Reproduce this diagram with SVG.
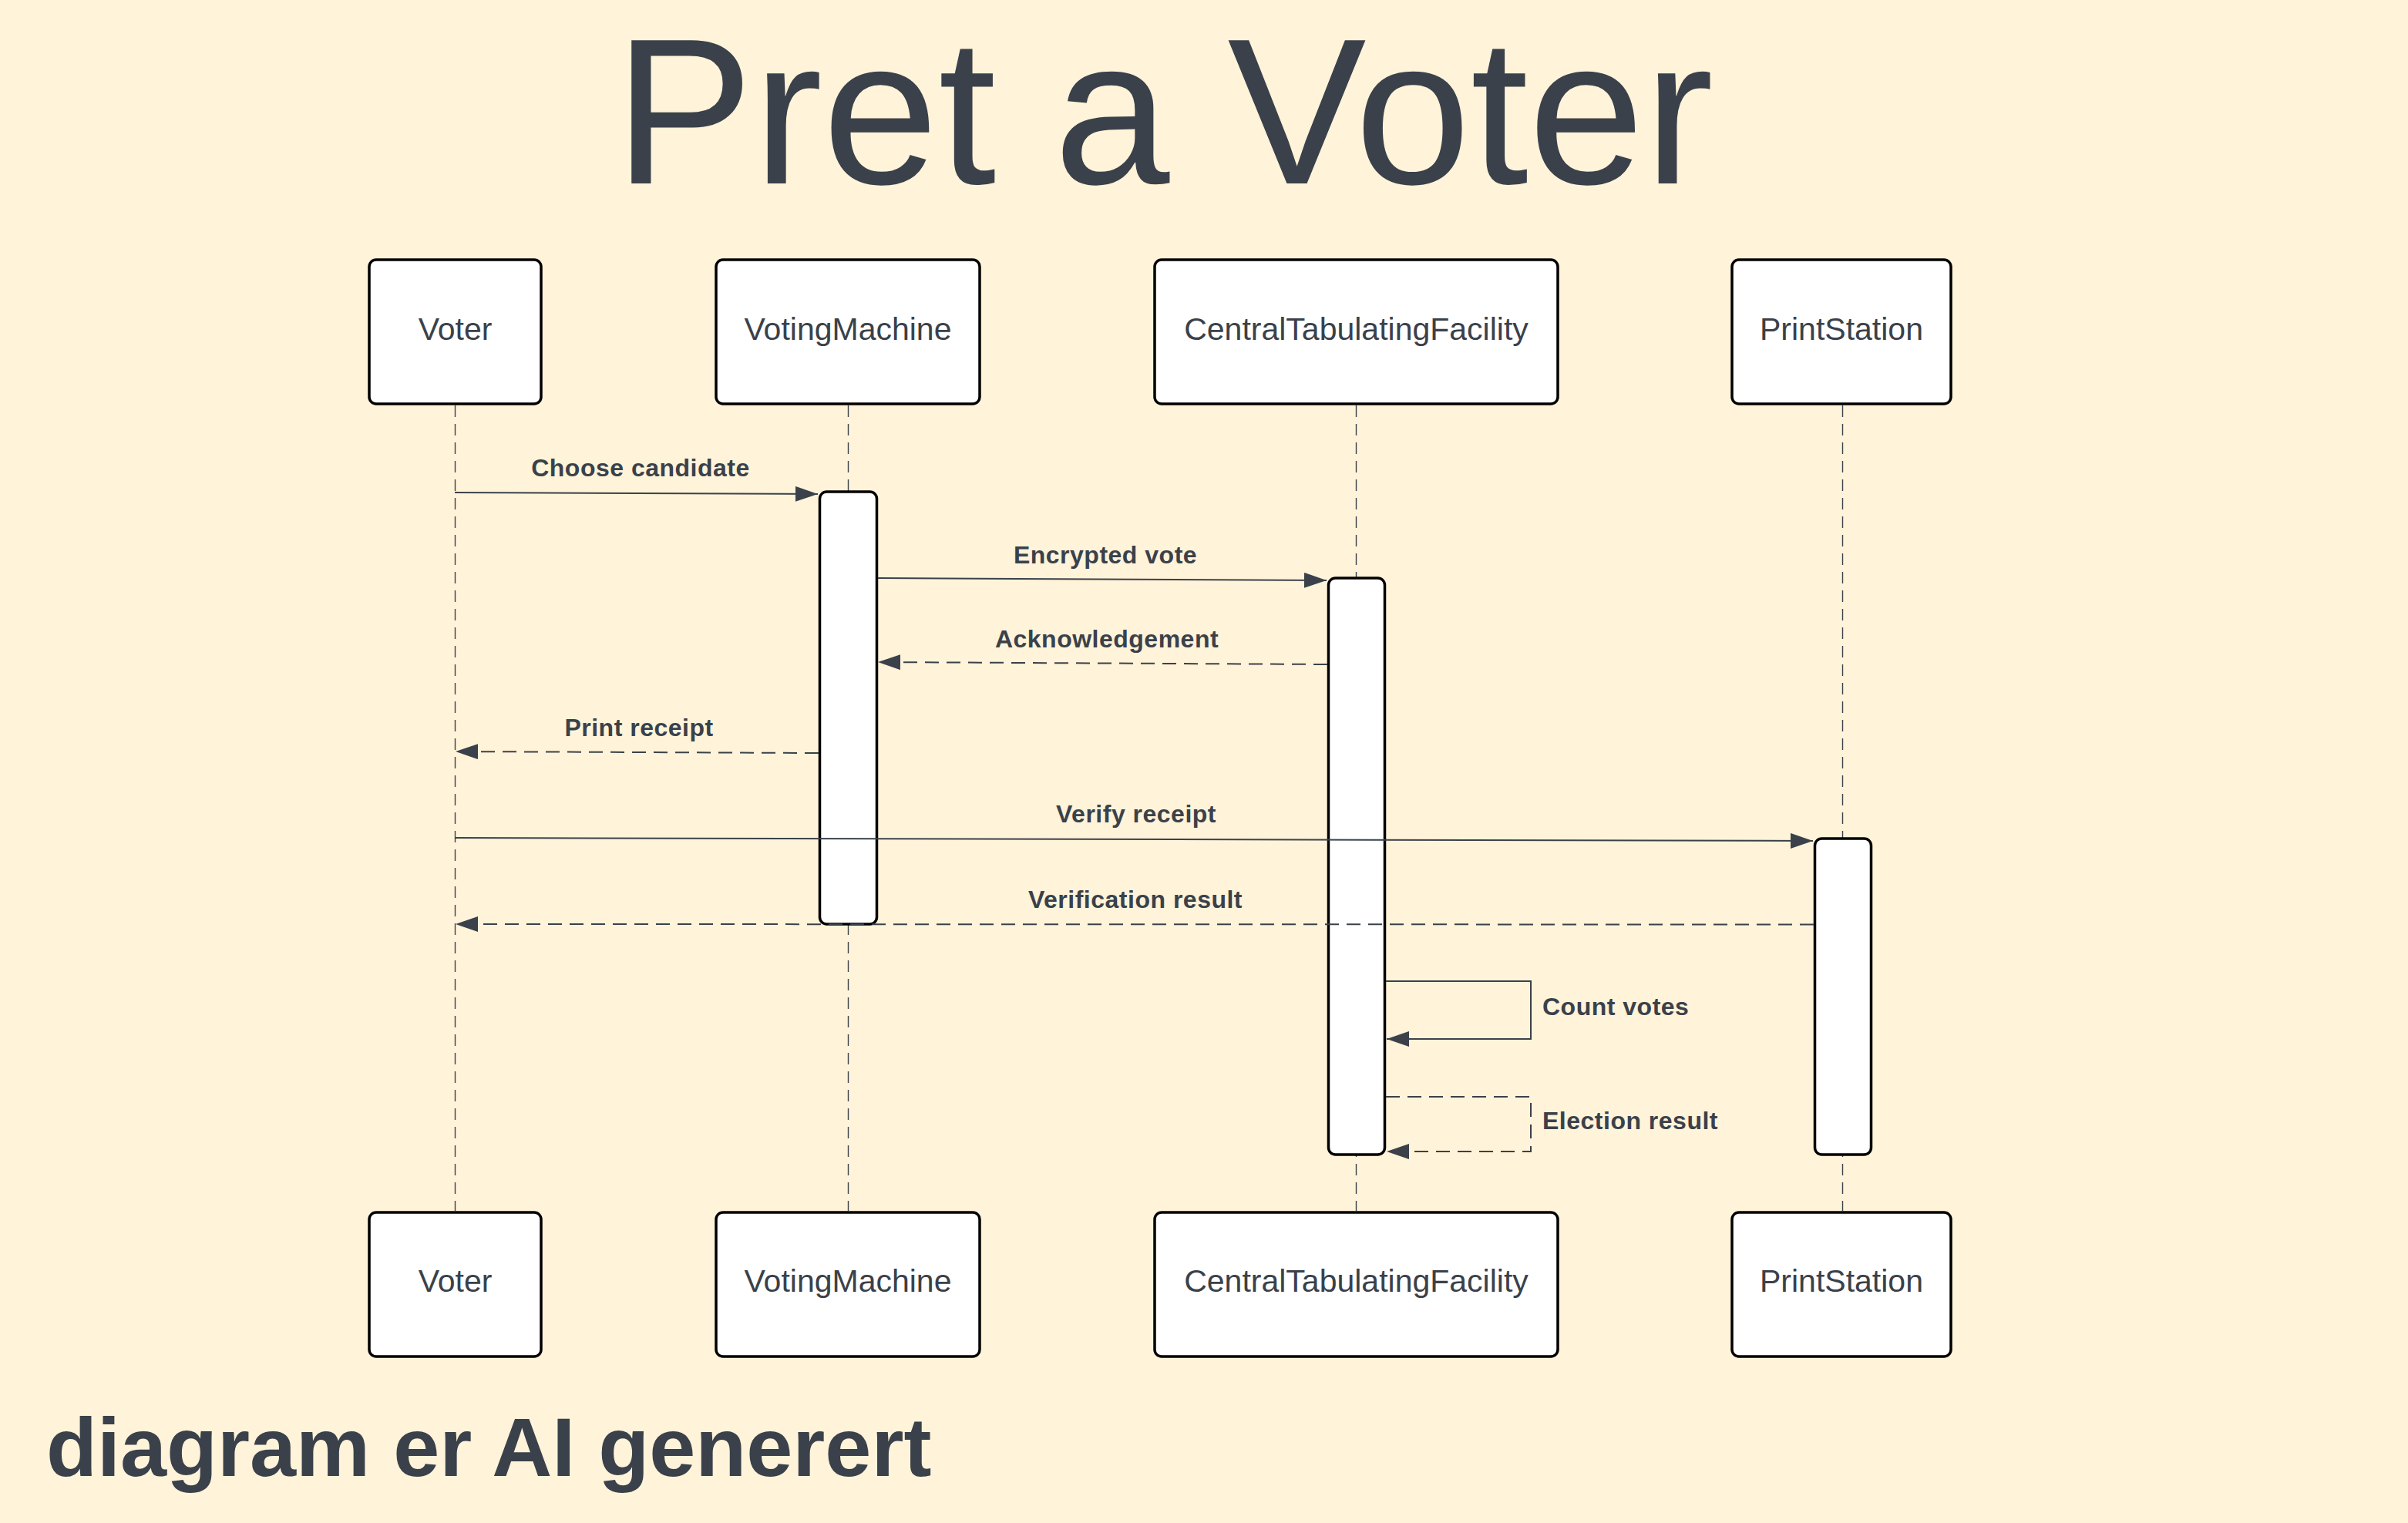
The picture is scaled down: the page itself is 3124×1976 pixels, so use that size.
<svg xmlns="http://www.w3.org/2000/svg" width="3124" height="1976" viewBox="0 0 3124 1976">
  <defs>
    <style>
      .bg { fill: #fff3d9; }
      .title { font-family: "Liberation Sans", Arial, sans-serif; font-size: 270px; fill: #3a414a; text-anchor: middle; }
      .footer { font-family: "Liberation Sans", Arial, sans-serif; font-size: 108px; font-weight: bold; fill: #3a414a; }
      .box { fill: #ffffff; stroke: #000000; stroke-width: 3.5; }
      .act { fill: #ffffff; stroke: #000000; stroke-width: 3.5; }
      .ptext { font-family: "Liberation Sans", Arial, sans-serif; font-size: 41px; fill: #3a414a; text-anchor: middle; }
      .life { stroke: #3a414a; stroke-width: 1.4; stroke-dasharray: 15 9; fill: none; }
      .msg { stroke: #3a414a; stroke-width: 2; fill: none; marker-end: url(#arrow); }
      .dash { stroke-dasharray: 18 10; }
      .mlabel { font-family: "Liberation Sans", Arial, sans-serif; font-size: 32px; font-weight: bold; fill: #3a414a; letter-spacing: 0.5px; }
      .mid { text-anchor: middle; }
    </style>
    <marker id="arrow" markerUnits="userSpaceOnUse" markerWidth="30" markerHeight="20" refX="29" refY="10" orient="auto">
      <path d="M0,0 L29,10 L0,20 Z" fill="#3a414a"/>
    </marker>
  </defs>

  <rect class="bg" x="0" y="0" width="3124" height="1976"/>

  <text class="title" x="1510" y="238">Pret a Voter</text>

  <g id="lifelines">
    <line class="life" x1="590.5" y1="526" x2="590.5" y2="1571"/>
    <line class="life" x1="1100.5" y1="526" x2="1100.5" y2="1571"/>
    <line class="life" x1="1759.5" y1="526" x2="1759.5" y2="1571"/>
    <line class="life" x1="2390.5" y1="526" x2="2390.5" y2="1571"/>
  </g>

  <g id="voter">
    <rect class="box" x="479" y="337" width="223" height="187" rx="9"/>
    <text class="ptext" x="590.5" y="441">Voter</text>
  </g>
  <g id="votingmachine">
    <rect class="box" x="929" y="337" width="342" height="187" rx="9"/>
    <text class="ptext" x="1100" y="441">VotingMachine</text>
  </g>
  <g id="ctf">
    <rect class="box" x="1498" y="337" width="523" height="187" rx="9"/>
    <text class="ptext" x="1759.5" y="441">CentralTabulatingFacility</text>
  </g>
  <g id="printstation">
    <rect class="box" x="2247" y="337" width="284" height="187" rx="9"/>
    <text class="ptext" x="2389" y="441">PrintStation</text>
  </g>

  <g id="voter-bottom">
    <rect class="box" x="479" y="1573" width="223" height="187" rx="9"/>
    <text class="ptext" x="590.5" y="1676">Voter</text>
  </g>
  <g id="votingmachine-bottom">
    <rect class="box" x="929" y="1573" width="342" height="187" rx="9"/>
    <text class="ptext" x="1100" y="1676">VotingMachine</text>
  </g>
  <g id="ctf-bottom">
    <rect class="box" x="1498" y="1573" width="523" height="187" rx="9"/>
    <text class="ptext" x="1759.5" y="1676">CentralTabulatingFacility</text>
  </g>
  <g id="printstation-bottom">
    <rect class="box" x="2247" y="1573" width="284" height="187" rx="9"/>
    <text class="ptext" x="2389" y="1676">PrintStation</text>
  </g>

  <g id="vm-activation">
    <rect class="act" x="1063.5" y="638" width="74" height="561" rx="9"/>
  </g>
  <g id="ctf-activation">
    <rect class="act" x="1723.5" y="750" width="73" height="748" rx="9"/>
  </g>
  <g id="ps-activation">
    <rect class="act" x="2354.5" y="1088" width="73" height="410" rx="9"/>
  </g>

  <g id="connectors">
    <line class="msg" x1="590" y1="639" x2="1061" y2="641"/>
    <text class="mlabel mid" x="831" y="618">Choose candidate</text>

    <line class="msg" x1="1139" y1="750" x2="1721" y2="753"/>
    <text class="mlabel mid" x="1434" y="731">Encrypted vote</text>

    <line class="msg dash" x1="1722" y1="862" x2="1139" y2="859"/>
    <text class="mlabel mid" x="1436" y="840">Acknowledgement</text>

    <line class="msg dash" x1="1062" y1="977" x2="591" y2="975"/>
    <text class="mlabel mid" x="829" y="955">Print receipt</text>

    <line class="msg" x1="590" y1="1087" x2="2352" y2="1091"/>
    <text class="mlabel mid" x="1474" y="1067">Verify receipt</text>

    <line class="msg dash" x1="2353" y1="1199.5" x2="591" y2="1199"/>
    <text class="mlabel mid" x="1473" y="1178">Verification result</text>

    <path class="msg" d="M1798,1273 L1986,1273 L1986,1348 L1799,1348"/>
    <text class="mlabel" x="2001" y="1317">Count votes</text>

    <path class="msg dash" d="M1798,1423 L1986,1423 L1986,1494 L1799,1494"/>
    <text class="mlabel" x="2001" y="1465">Election result</text>
  </g>

  <text class="footer" x="60" y="1915">diagram er AI generert</text>
</svg>
